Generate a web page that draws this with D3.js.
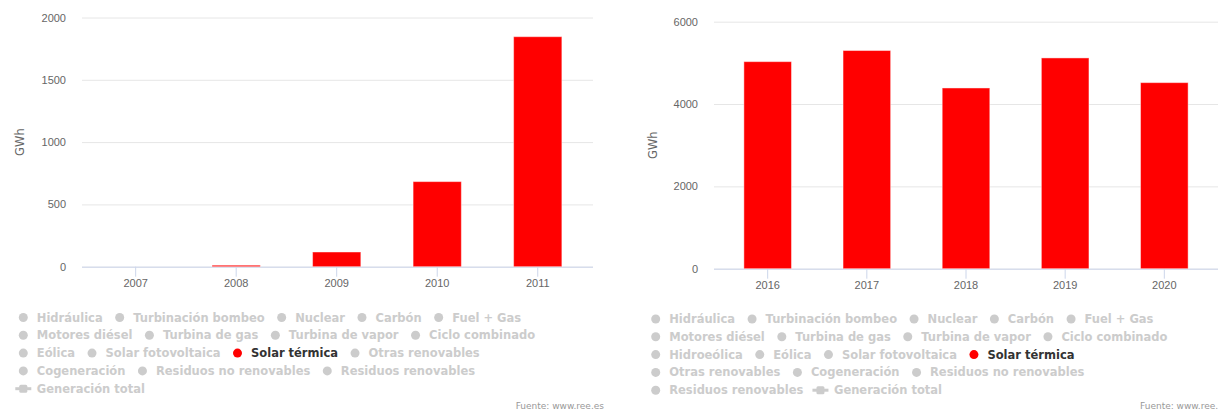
<!DOCTYPE html>
<html>
<head>
<meta charset="utf-8">
<script src="https://cdn.jsdelivr.net/npm/d3@7"></script>
<style>
  body { margin: 0; background: #fff; }
  svg { display: block; font-family: "DejaVu Sans", sans-serif; }
  .axis text { fill: #666; font-size: 11px; }
</style>
</head>
<body>
<div id="chart"></div>
<script>
// ---- data ----
const leftYears = ['2007', '2008', '2009', '2010', '2011'];
const leftValues = [0, 12, 118, 683, 1846];
const leftTicks = [0, 500, 1000, 1500, 2000];

const rightYears = ['2016', '2017', '2018', '2019', '2020'];
const rightValues = [5030, 5300, 4390, 5120, 4520];
const rightTicks = [0, 2000, 4000, 6000];

const leftLegendRows = [
  ['Hidráulica', 'Turbinación bombeo', 'Nuclear', 'Carbón', 'Fuel + Gas'],
  ['Motores diésel', 'Turbina de gas', 'Turbina de vapor', 'Ciclo combinado'],
  ['Eólica', 'Solar fotovoltaica', 'Solar térmica', 'Otras renovables'],
  ['Cogeneración', 'Residuos no renovables', 'Residuos renovables'],
  ['Generación total']
];
const rightLegendRows = [
  ['Hidráulica', 'Turbinación bombeo', 'Nuclear', 'Carbón', 'Fuel + Gas'],
  ['Motores diésel', 'Turbina de gas', 'Turbina de vapor', 'Ciclo combinado'],
  ['Hidroeólica', 'Eólica', 'Solar fotovoltaica', 'Solar térmica'],
  ['Otras renovables', 'Cogeneración', 'Residuos no renovables'],
  ['Residuos renovables', 'Generación total']
];
const activeSeries = 'Solar térmica';
const totalSeries = 'Generación total';
const yTitle = 'GWh';
const sourceText = 'Fuente: www.ree.es';

const svg = d3.select('#chart').append('svg')
  .attr('width', 1218)
  .attr('height', 410);

function drawPanel(cfg) {
  const g = svg.append('g');

  const x = d3.scaleBand()
    .domain(cfg.years)
    .range([cfg.plotLeft, cfg.plotRight])
    .paddingInner(0.52)
    .paddingOuter(0.26);

  const y = d3.scaleLinear()
    .domain([0, d3.max(cfg.ticks)])
    .range([cfg.bottom, cfg.top]);

  // grid + y labels
  const yAxis = d3.axisLeft(y)
    .tickValues(cfg.ticks)
    .tickFormat(d3.format('d'))
    .tickSize(-(cfg.gridRight - cfg.gridLeft))
    .tickPadding(16);

  const yg = g.append('g')
    .attr('class', 'axis')
    .attr('transform', 'translate(' + cfg.gridLeft + ',0)')
    .call(yAxis);
  yg.select('.domain').remove();
  yg.selectAll('.tick line').attr('stroke', '#e6e6e6');

  // y title
  g.append('text')
    .attr('transform', 'translate(' + cfg.titleX + ',' + (cfg.top + cfg.bottom) / 2 + ') rotate(-90)')
    .attr('text-anchor', 'middle')
    .attr('dy', '0.35em')
    .attr('fill', '#666')
    .style('font-size', '11.5px')
    .text(yTitle);

  // x axis
  const xAxis = d3.axisBottom(x).tickSize(10).tickSizeOuter(0).tickPadding(3);
  const xg = g.append('g')
    .attr('class', 'axis')
    .attr('transform', 'translate(0,' + cfg.bottom + ')')
    .call(xAxis);
  xg.select('.domain').remove();
  xg.selectAll('.tick line').attr('stroke', '#ccd6eb');

  g.append('line')
    .attr('x1', cfg.gridLeft)
    .attr('x2', cfg.gridRight)
    .attr('y1', cfg.bottom + 0.5)
    .attr('y2', cfg.bottom + 0.5)
    .attr('stroke', '#ccd6eb');

  // bars
  g.selectAll('.bar')
    .data(cfg.values)
    .enter()
    .append('rect')
    .attr('class', 'bar')
    .attr('x', (d, i) => x(cfg.years[i]))
    .attr('width', x.bandwidth())
    .attr('y', (d) => y(d))
    .attr('height', (d) => y(0) - y(d))
    .attr('fill', '#ff0000')
    .attr('stroke', '#ffffff')
    .attr('stroke-opacity', 0.45)
    .attr('stroke-width', 1);

  // legend
  const lg = g.append('g').style('font-size', '11.5px').style('font-weight', 'bold');
  cfg.legendRows.forEach((row, r) => {
    let cx = cfg.legendX;
    const cy = cfg.legendY + r * cfg.legendStep;
    row.forEach((name) => {
      const on = name === activeSeries;
      const color = on ? '#ff0000' : '#cccccc';
      if (name === totalSeries) {
        lg.append('line')
          .attr('x1', cx - 8).attr('x2', cx + 8)
          .attr('y1', cy).attr('y2', cy)
          .attr('stroke', color).attr('stroke-width', 3);
        lg.append('rect')
          .attr('x', cx - 4).attr('y', cy - 4)
          .attr('width', 8).attr('height', 8)
          .attr('rx', 1.5)
          .attr('fill', color);
      } else {
        lg.append('circle')
          .attr('cx', cx).attr('cy', cy).attr('r', 4.5)
          .attr('fill', color);
      }
      const t = lg.append('text')
        .attr('x', cx + 13.5)
        .attr('y', cy)
        .attr('dy', '0.35em')
        .attr('fill', on ? '#333333' : '#cccccc')
        .text(name);
      cx += 13.5 + t.node().getComputedTextLength() + 17;
    });
  });

  // source
  g.append('text')
    .attr('x', cfg.sourceX)
    .attr('y', cfg.sourceY)
    .attr('text-anchor', cfg.sourceAnchor)
    .attr('dy', '0.35em')
    .attr('fill', '#999')
    .style('font-size', '9px')
    .text(sourceText);
}

drawPanel({
  years: leftYears, values: leftValues, ticks: leftTicks,
  plotLeft: 85.4, plotRight: 588, gridLeft: 82, gridRight: 593,
  top: 17.5, bottom: 266.7, titleX: 20,
  legendRows: leftLegendRows, legendX: 23.3, legendY: 317.5, legendStep: 17.8,
  sourceX: 604, sourceY: 405.5, sourceAnchor: 'end'
});

drawPanel({
  years: rightYears, values: rightValues, ticks: rightTicks,
  plotLeft: 718.1, plotRight: 1213.9, gridLeft: 714, gridRight: 1218,
  top: 21.7, bottom: 268.7, titleX: 653,
  legendRows: rightLegendRows, legendX: 655.7, legendY: 319, legendStep: 17.8,
  sourceX: 1140, sourceY: 406, sourceAnchor: 'start'
});
</script>
</body>
</html>
